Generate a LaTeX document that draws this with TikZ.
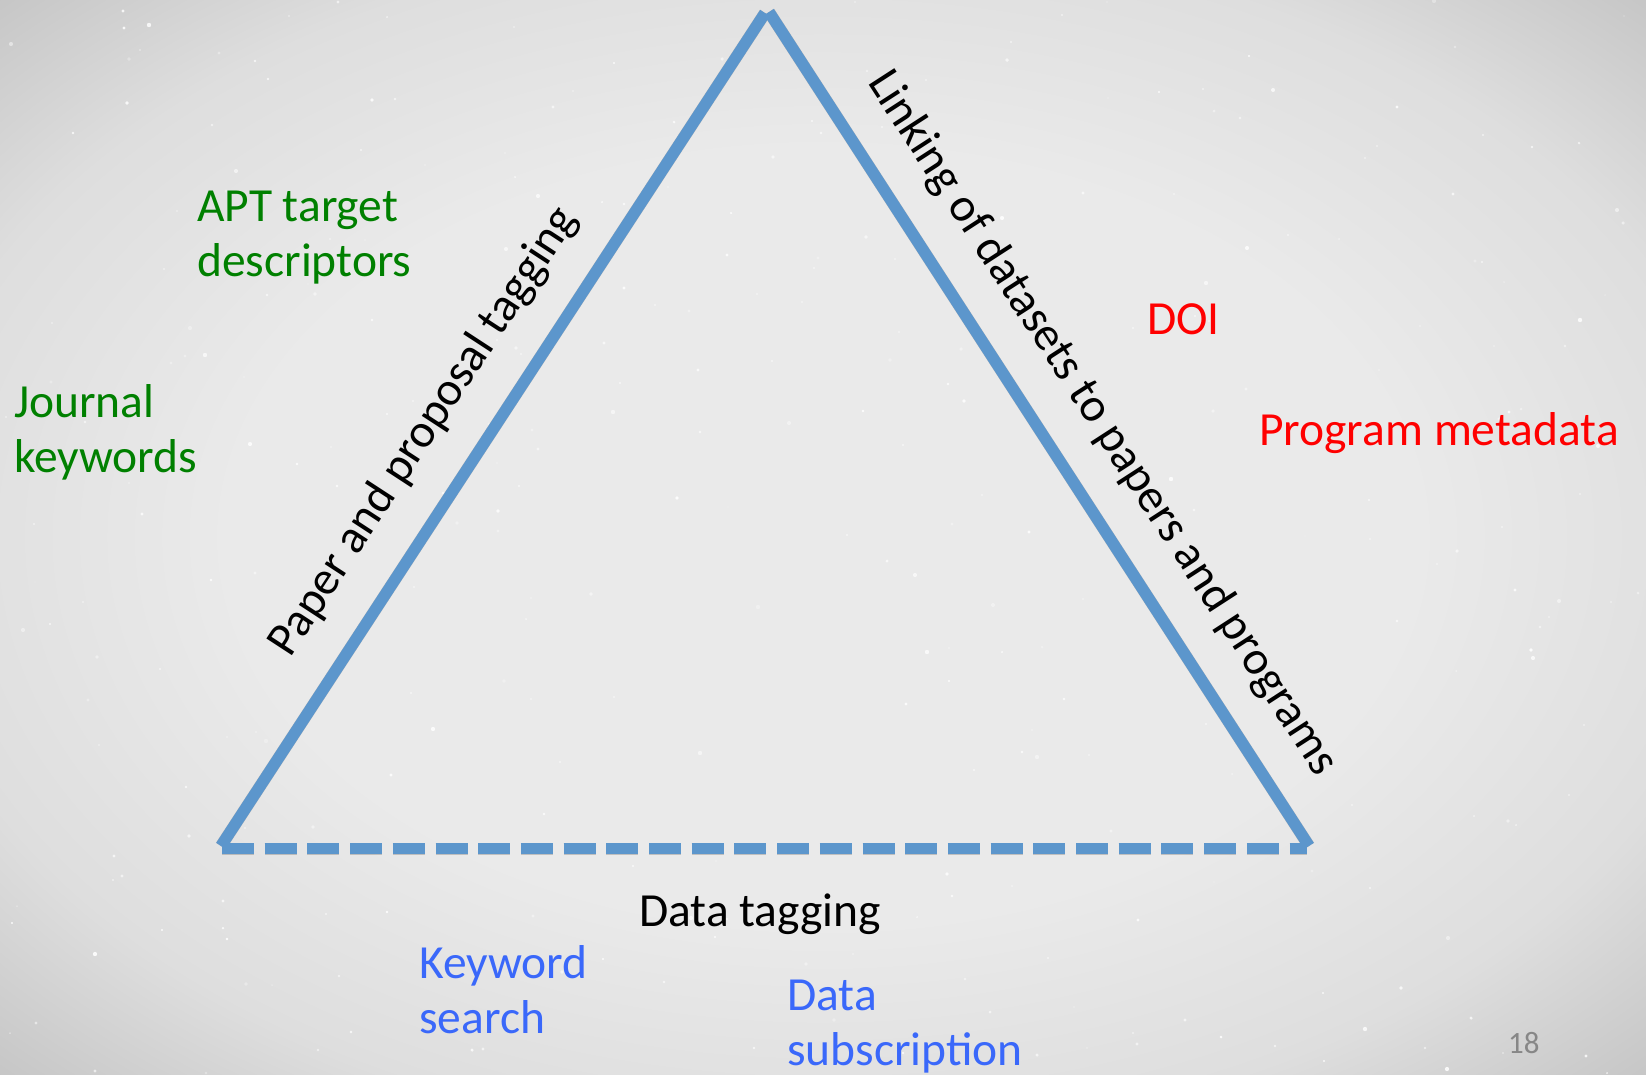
\documentclass[tikz,border=0pt]{standalone}
\usepackage{fontspec}
\setmainfont{Carlito}
\definecolor{bgA}{RGB}{234,234,234}
\definecolor{bgB}{RGB}{222,222,222}
\definecolor{bgC}{RGB}{190,190,190}
\definecolor{bgD}{RGB}{155,155,155}
\definecolor{edgeblue}{RGB}{92,150,204}
\definecolor{tgreen}{RGB}{0,128,0}
\definecolor{tred}{RGB}{255,0,0}
\definecolor{tblue}{RGB}{58,104,250}
\definecolor{tnum}{RGB}{135,135,135}
\pgfdeclareradialshading{bgsh}{\pgfpoint{0bp}{0bp}}{color(0bp)=(bgA); color(18bp)=(bgA); color(28bp)=(bgB); color(38bp)=(bgC); color(50bp)=(bgD)}
\tikzset{
  edge/.style={draw=edgeblue, line width=11.5pt, line cap=butt},
  shadowline/.style={draw=black, opacity=0.18, line width=12pt, line cap=butt},
  dashededge/.style={edge, dash pattern=on 32pt off 10.7pt},
  lbl/.style={inner sep=0pt, anchor=base west, align=left, font=\fontsize{47.5}{55}\selectfont},
  sidelbl/.style={inner sep=30pt, font=\fontsize{47.5}{55}\selectfont, text=black},
}
\begin{document}
\begin{tikzpicture}[x=1pt,y=-1pt]
\useasboundingbox (0,0) rectangle (1646,1074);
\shade[shading=bgsh] (0,0) rectangle (1646,1074);
\pgfmathsetseed{11}
\foreach \i in {1,...,320}{
  \pgfmathsetmacro\sx{random(0,1646)}
  \pgfmathsetmacro\sy{random(0,1074)}
  \pgfmathsetmacro\so{0.3+0.6*rnd}
  \pgfmathsetmacro\sr{0.7+1.5*rnd}
  \fill[white,opacity=\so] (\sx,\sy) circle (\sr pt);
}
% corners
\coordinate (bl) at (221,846);
\coordinate (apL) at (765,13);
\coordinate (apR) at (769,12);
\coordinate (br) at (1309,846);
\coordinate (dl) at (222,848.5);
\coordinate (dr) at (1307,848.5);
% shadows
\begin{scope}[shift={(2,3)}]
\draw[shadowline] (bl) -- (apL);
\draw[shadowline] (apR) -- (br);
\draw[shadowline, dash pattern=on 32pt off 10.7pt] (dl) -- (dr);
\end{scope}
% edges
\draw[edge] (bl) -- (apL) node[pos=0.46, sloped, above, sidelbl] (ptag) {Paper and proposal tagging};
\draw[edge] (apR) -- (br) node[pos=0.53, sloped, above, sidelbl] (link) {Linking of datasets to papers and programs};
\draw[dashededge] (dl) -- (dr);
% labels (base = last line)
\node[lbl, text=tgreen] (apt) at (197,276) {APT target\\descriptors};
\node[lbl, text=tgreen] (jk) at (14,472) {Journal\\keywords};
\node[lbl, text=tred] (doi) at (1147,334) {DOI};
\node[lbl, text=tred] (pm) at (1259,445) {Program metadata};
\node[lbl, text=black] (dt) at (639,926) {Data tagging};
\node[lbl, text=tblue] (ks) at (419,1033) {Keyword\\search};
\node[lbl, text=tblue] (ds) at (787,1065) {Data\\subscription};
\node[inner sep=0pt, anchor=base west, text=tnum, font=\fontsize{31}{37}\selectfont] (num) at (1508,1053) {18};
\end{tikzpicture}
\end{document}
